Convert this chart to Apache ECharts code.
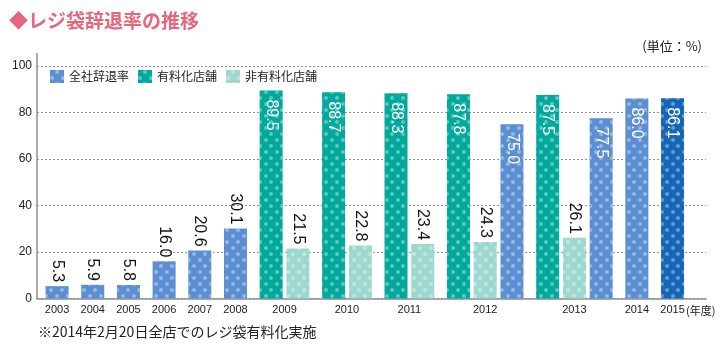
<!DOCTYPE html>
<html><head><meta charset="utf-8">
<script src="https://cdn.jsdelivr.net/npm/echarts@6/dist/echarts.min.js"></script>
<style>html,body{margin:0;padding:0;background:#fff}#c{width:720px;height:350px}</style>
</head><body><div id="c"></div>
<script>
// ---- data ----
const years = ['2003','2004','2005','2006','2007','2008','2009','2010','2011','2012','2013','2014','2015'];
const companyRate  = [5.3, 5.9, 5.8, 16.0, 20.6, 30.1, null, null, null, 75.0, 77.5, 86.0, 86.1];
const paidStores   = [null, null, null, null, null, null, 89.5, 88.7, 88.3, 87.8, 87.5, null, null];
const unpaidStores = [null, null, null, null, null, null, 21.5, 22.8, 23.4, 24.3, 26.1, null, null];
const yTicks = [0, 20, 40, 60, 80, 100];
const seriesNames = ['全社辞退率', '有料化店舗', '非有料化店舗'];
const titleText = '◆レジ袋辞退率の推移';
const unitText = '(単位：%)';
const yearSuffix = '(年度)';
const noteText = '※2014年2月20日全店でのレジ袋有料化実施';
const highlightYear = '2015';

// ---- layout (slot grid on a category axis) ----
const TOTAL_SLOTS = 150, FIRST_SLOT = 4, GROUP_STEP = 8, INNER_STEP = 6;
const slotNames = Array.from({length: TOTAL_SLOTS}, (_, i) => 's' + i);
const labelAt = {};
const sData = [new Array(TOTAL_SLOTS).fill(null), new Array(TOTAL_SLOTS).fill(null), new Array(TOTAL_SLOTS).fill(null)];
let slot = null;
years.forEach((y, yi) => {
  const bars = [];
  if (paidStores[yi] != null) bars.push([1, paidStores[yi]]);
  if (unpaidStores[yi] != null) bars.push([2, unpaidStores[yi]]);
  if (companyRate[yi] != null) bars.push([0, companyRate[yi]]);
  const slots = [];
  bars.forEach((b, bi) => {
    slot = slot === null ? FIRST_SLOT : slot + (bi === 0 ? GROUP_STEP : INNER_STEP);
    slots.push(slot);
    sData[b[0]][slot] = {value: b[1], year: y};
  });
  const ls = slots.length === 2 ? slots[0] + INNER_STEP / 2 : slots[Math.floor(slots.length / 2)];
  labelAt[ls] = y;
});

const colors = ['#5b8fd2', '#00a99b', '#9dd8ce'];
const highlightColor = '#1565b8';
const decal = {symbol: 'circle', symbolSize: 1, color: 'rgba(255,255,255,0.36)',
  dashArrayX: [[3.4, 6.6], [0, 5, 3.4, 1.6]], dashArrayY: [3.4, 1.8], rotation: 0};

const numFont = 'Liberation Sans, Arial, sans-serif';
const jpFont = 'Noto Sans CJK JP, sans-serif';
const fmt = p => Number(p.value).toFixed(1);
const insideLabel = {show: true, position: 'insideTop', rotate: -90, align: 'left', verticalAlign: 'middle',
  distance: 9, color: '#fff', fontSize: 16, fontFamily: numFont, formatter: fmt};
const topLabel = {show: true, position: 'top', rotate: -90, align: 'right', verticalAlign: 'middle',
  distance: 4, color: '#111', fontSize: 16, fontFamily: numFont, formatter: fmt};

function decorate(arr, si) {
  return arr.map(d => {
    if (d == null) return null;
    const item = {value: d.value, label: d.value >= 50 ? insideLabel : topLabel};
    if (si === 0 && d.year === highlightYear) item.itemStyle = {color: highlightColor};
    return item;
  });
}

const chart = echarts.init(document.getElementById('c'), null, {renderer: 'canvas'});
const option = {
  animation: false,
  title: {text: titleText, left: 9, top: 11, padding: 0,
    textStyle: {color: '#e8667b', fontSize: 19, fontWeight: 'bold', fontFamily: jpFont}},
  legend: {data: seriesNames, left: 50, top: 70, padding: 0, itemWidth: 14, itemHeight: 13, itemGap: 9, icon: 'rect',
    textStyle: {fontSize: 12, color: '#222', fontFamily: jpFont}},
  grid: {left: 37, right: 14, top: 66, bottom: 51.5, containLabel: false},
  xAxis: {type: 'category', data: slotNames, boundaryGap: true,
    axisLine: {lineStyle: {color: '#8a8f96', width: 1.5}}, axisTick: {show: false},
    axisLabel: {interval: 0, fontSize: 11, color: '#222', margin: 6, fontFamily: numFont,
      formatter: (v, i) => labelAt[i] || ''}},
  yAxis: {type: 'value', min: yTicks[0], max: yTicks[yTicks.length - 1], interval: yTicks[1] - yTicks[0],
    axisLine: {show: true, lineStyle: {color: '#8a8f96', width: 1.5}}, axisTick: {show: false},
    axisLabel: {fontSize: 12, color: '#222', margin: 5, fontFamily: numFont},
    splitLine: {lineStyle: {color: '#8c96a0', type: [2, 2], width: 1}}},
  series: seriesNames.map((n, si) => ({
    name: n, type: 'bar', barWidth: 23, barGap: '-100%',
    itemStyle: {color: colors[si], decal: decal},
    data: decorate(sData[si], si)
  }))
};
chart.setOption(option);

// extras: axis line extension, unit text, year suffix, note
const top100 = chart.convertToPixel({yAxisIndex: 0}, yTicks[yTicks.length - 1]);
const y0 = chart.convertToPixel({yAxisIndex: 0}, 0);
const lastSlot = Object.keys(labelAt).map(Number).find(k => labelAt[k] === highlightYear);
const xLast = chart.convertToPixel({xAxisIndex: 0}, lastSlot);
const xAxisLeft = chart.convertToPixel({xAxisIndex: 0}, 0) - (chart.convertToPixel({xAxisIndex: 0}, 1) - chart.convertToPixel({xAxisIndex: 0}, 0)) / 2;
chart.setOption({graphic: [
  {type: 'line', shape: {x1: xAxisLeft, y1: top100 - 13, x2: xAxisLeft, y2: top100}, style: {stroke: '#8a8f96', lineWidth: 1.5}},
  {type: 'text', x: 702, y: 46, style: {text: unitText, align: 'right', verticalAlign: 'middle', fontSize: 13, fill: '#222', fontFamily: jpFont}},
  {type: 'text', x: xLast + 13.5, y: y0 + 12, style: {text: yearSuffix, align: 'left', verticalAlign: 'middle', fontSize: 11, fill: '#222', fontFamily: jpFont}},
  {type: 'text', x: 38, y: 332, style: {text: noteText, align: 'left', verticalAlign: 'middle', fontSize: 14, fill: '#222', fontFamily: jpFont}}
]});
</script>
</body></html>
